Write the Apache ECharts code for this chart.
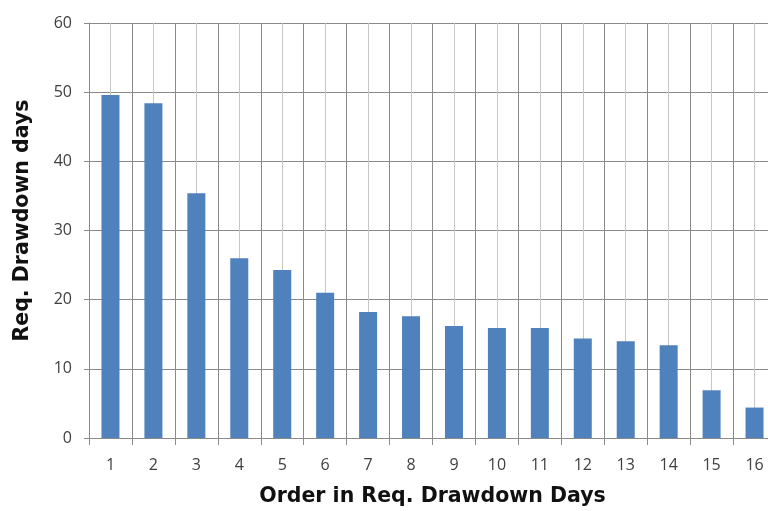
<!DOCTYPE html>
<html>
<head>
<meta charset="utf-8">
<script src="https://cdn.jsdelivr.net/npm/echarts@6/dist/echarts.min.js"></script>
<style>
  html, body { margin: 0; padding: 0; background: #fff; }
  #chart { width: 768px; height: 511px; }
</style>
</head>
<body>
<div id="chart"></div>
<script>
// Order of each drawdown and the required drawdown days
const categories = ['1', '2', '3', '4', '5', '6', '7', '8', '9', '10', '11', '12', '13', '14', '15', '16'];
const drawdownDays = [49.6, 48.4, 35.4, 26.0, 24.3, 21.0, 18.2, 17.6, 16.2, 15.9, 15.9, 14.4, 14.0, 13.4, 6.9, 4.4];
const yTicks = { min: 0, max: 60, interval: 10 };

const labelFont = '"Open Sans", "Liberation Sans", sans-serif';
const titleFont = '"DejaVu Sans", sans-serif';
const gridDark = '#8a8a8a';
const gridLight = '#c6c6c6';

const chart = echarts.init(document.getElementById('chart'), null, { renderer: 'canvas' });
chart.setOption({
  animation: false,
  backgroundColor: '#ffffff',
  grid: { left: 89, top: 23, right: -8, bottom: 73, containLabel: false, outerBoundsMode: 'none' },
  xAxis: [
    {
      type: 'category',
      data: categories,
      boundaryGap: true,
      name: 'Order in Req. Drawdown Days',
      nameLocation: 'middle',
      nameGap: 48,
      nameTextStyle: { fontFamily: titleFont, fontSize: 20.5, fontWeight: 'bold', color: '#111' },
      axisLine: { show: true, lineStyle: { color: gridDark, width: 1 } },
      axisTick: { show: true, interval: 0, length: 7, lineStyle: { color: gridDark } },
      axisLabel: { interval: 0, margin: 19, fontFamily: labelFont, fontSize: 16, color: '#404040' },
      splitLine: { show: true, interval: 0, lineStyle: { color: gridDark, width: 1 } }
    },
    {
      // half-step guide lines through the middle of each category
      type: 'value',
      min: 0,
      max: 32,
      interval: 1,
      position: 'bottom',
      axisLine: { show: false },
      axisTick: { show: false },
      axisLabel: { show: false },
      splitLine: { show: true, lineStyle: { color: ['rgba(0,0,0,0)', gridLight], width: 1 } }
    }
  ],
  yAxis: {
    type: 'value',
    min: yTicks.min,
    max: yTicks.max,
    interval: yTicks.interval,
    name: 'Req. Drawdown days',
    nameLocation: 'middle',
    nameRotate: 90,
    nameGap: 56,
    nameTextStyle: { fontFamily: titleFont, fontSize: 20.5, fontWeight: 'bold', color: '#111', padding: [0, 0, 0, 20] },
    axisLine: { show: true, lineStyle: { color: gridDark, width: 1 } },
    axisTick: { show: true, length: 5, lineStyle: { color: gridDark } },
    axisLabel: { margin: 17, fontFamily: labelFont, fontSize: 16, color: '#404040' },
    splitLine: { show: true, lineStyle: { color: gridDark, width: 1 } }
  },
  series: [
    {
      type: 'bar',
      xAxisIndex: 0,
      data: drawdownDays,
      barWidth: 18,
      itemStyle: { color: '#4f81bd' }
    }
  ]
});
</script>
</body>
</html>
